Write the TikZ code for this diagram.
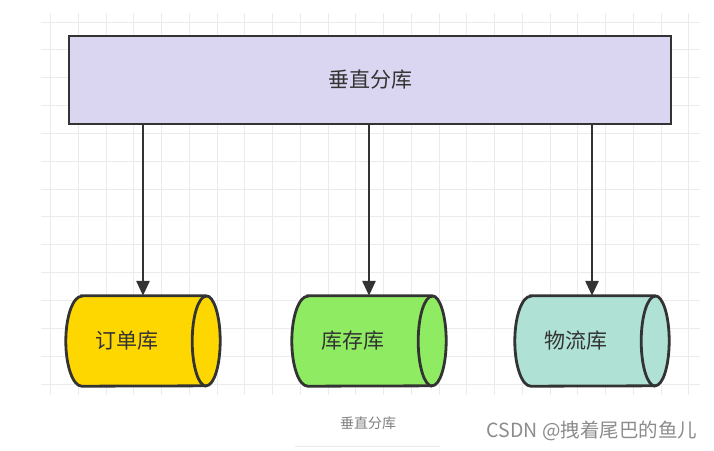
\documentclass[tikz,border=0pt]{standalone}
\usepackage{fontspec}
\setmainfont{Noto Sans CJK SC}
\usetikzlibrary{arrows.meta,backgrounds}

\definecolor{gridgray}{HTML}{EBEBEB}
\definecolor{inkgray}{HTML}{333333}
\definecolor{boxlilac}{HTML}{DAD6F1}
\definecolor{dbyellow}{HTML}{FFD700}
\definecolor{dbgreen}{HTML}{8FEC62}
\definecolor{dbteal}{HTML}{AFE2D5}

\tikzset{
  topbox/.style={draw=inkgray, line width=2.8pt, fill=boxlilac, minimum width=602pt,
    minimum height=88pt, text=inkgray, font=\fontsize{21}{24}\selectfont},
  dbnode/.style={minimum width=154pt, minimum height=90pt, inner sep=0pt,
    text=inkgray, font=\fontsize{21}{24}\selectfont},
  dbline/.style={draw=inkgray, line width=2.8pt},
  link/.style={draw=inkgray, line width=2.8pt, -{Triangle[width=13pt,length=15pt]}}
}

\begin{document}
\begin{tikzpicture}[x=1pt,y=-1pt]
    \useasboundingbox (0,0) rectangle (714,450);

    % Top box
    \node[topbox] (split) at (370,80) {垂直分库};

    % Databases
    \node[dbnode] (order) at (143,341) {订单库\rule{32pt}{0pt}};
    \node[dbnode] (stock) at (369,341) {库存库\rule{32pt}{0pt}};
    \node[dbnode] (ship) at (592,341) {物流库\rule{32pt}{0pt}};

    \begin{scope}[on background layer]
        \fill[white] (0,0) rectangle (714,450);
        % Grid
        \foreach \i in {0,...,23} {
            \draw[gridgray, line width=1pt] (50.5+27.75*\i,13) -- (50.5+27.75*\i,395);
        }
        \foreach \j in {0,...,13} {
            \draw[gridgray, line width=1pt] (41,22+27.85*\j) -- (700,22+27.85*\j);
        }
        % Cylinders
        \foreach \db/\col in {order/dbyellow, stock/dbgreen, ship/dbteal} {
            \filldraw[dbline, fill=\col] ([xshift=16pt]\db.north west) -- ([xshift=-14pt]\db.north east)
                arc[start angle=-90, end angle=90, x radius=14, y radius=45]
                -- ([xshift=16pt]\db.south west)
                arc[start angle=90, end angle=270, x radius=16, y radius=45] -- cycle;
            \draw[dbline] ([xshift=-14pt]\db.south east)
                arc[start angle=90, end angle=270, x radius=14, y radius=45];
        }
    \end{scope}

    % Arrows
    \draw[link] (split.south -| order.north) -- (order.north);
    \draw[link] (split.south -| stock.north) -- (stock.north);
    \draw[link] (split.south -| ship.north) -- (ship.north);

    % Caption
    \node[text=gray, font=\fontsize{14}{16}\selectfont] (caption) at (368,423) {垂直分库};
    \draw[gridgray, line width=1pt] (295,446) -- (440,446);
    \node[text=black!45, font=\fontsize{19.5}{22}\selectfont] (mark) at (592,431) {CSDN @拽着尾巴的鱼儿};
\end{tikzpicture}
\end{document}
